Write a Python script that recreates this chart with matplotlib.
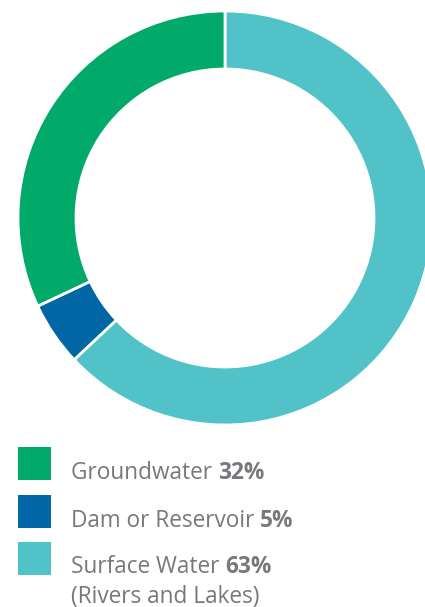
import matplotlib.pyplot as plt
from matplotlib.patches import Rectangle

# data
labels = ['Surface Water', 'Dam or Reservoir', 'Groundwater']
values = [63, 5, 32]
colors = ['#50c2c8', '#0066a6', '#02aa69']

legend_names = ['Groundwater', 'Dam or Reservoir', 'Surface Water']
legend_pcts = ['32%', '5%', '63%']
legend_colors = ['#02aa69', '#0066a6', '#50c2c8']

W, H = 425, 607
fig = plt.figure(figsize=(W / 100, H / 100), dpi=100)
ax = fig.add_axes([0, 0, 1, 1])

ax.pie(values, colors=colors, startangle=90, counterclock=False,
       center=(225, H - 218), radius=207,
       wedgeprops=dict(width=58, edgecolor='white', linewidth=2))
ax.set_xlim(0, W)
ax.set_ylim(0, H)
ax.set_aspect('equal')
ax.axis('off')

font = 'Open Sans'
grey = '#77787b'
fs = 16.3
box_tops = [447, 495, 542]
baselines = [479, 527, 573]

fig.canvas.draw()
renderer = fig.canvas.get_renderer()
for i in range(3):
    ax.add_patch(Rectangle((18, H - box_tops[i] - 33), 33, 33,
                           color=legend_colors[i], lw=0))
    t = ax.text(71, H - baselines[i], legend_names[i] + ' ', fontsize=fs,
                color=grey, family=font, va='baseline')
    bb = t.get_window_extent(renderer)
    ax.text(bb.x1, H - baselines[i], legend_pcts[i], fontsize=fs,
            color=grey, family=font, weight='bold', va='baseline')

ax.text(71, H - 603, '(Rivers and Lakes)', fontsize=fs, color=grey,
        family=font, va='baseline')

fig.savefig('out.png', dpi=100)
